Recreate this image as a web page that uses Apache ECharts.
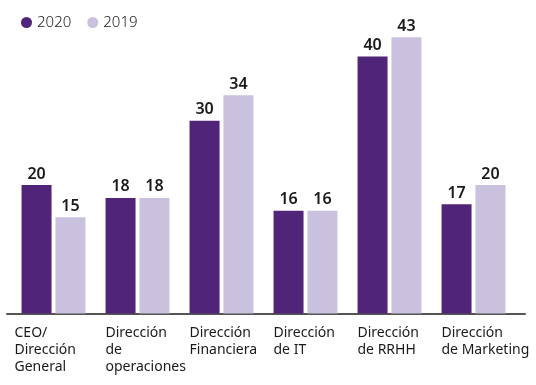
<!DOCTYPE html>
<html><head><meta charset="utf-8">
<script src="https://cdn.jsdelivr.net/npm/echarts@6/dist/echarts.min.js"></script>
<style>html,body{margin:0;padding:0;background:#fff}#c{width:536px;height:385px}</style>
</head><body><div id="c"></div>
<script>
var categories = ['CEO/\nDirección\nGeneral', 'Dirección\nde\noperaciones', 'Dirección\nFinanciera', 'Dirección\nde IT', 'Dirección\nde RRHH', 'Dirección\nde Marketing'];
var seriesNames = ['2020', '2019'];
var values2020 = [20, 18, 30, 16, 40, 17];
var values2019 = [15, 18, 34, 16, 43, 20];
var colors = ['#4f2479', '#c9c1de'];
var FONT = '"Noto Sans", sans-serif';

var catLabelStyle = {align: 'left', padding: [0, 0, 0, -32], lineHeight: 17,
  fontFamily: FONT, fontSize: 14, fontWeight: 'normal', color: '#1a1a1a'};
var catItems = categories.map(function (c, i) {
  if (i !== 0) return c;
  var st = Object.assign({}, catLabelStyle, {padding: [0, 0, 0, -39]});
  return {value: c, textStyle: st};
});

var chart = echarts.init(document.getElementById('c'));
var lbl = {show: true, position: 'top', distance: 3, color: '#1a1a1a', fontFamily: FONT, fontSize: 16, fontWeight: 600};
chart.setOption({
  animation: false,
  color: colors,
  legend: {
    left: 16, top: 10, icon: 'circle', itemWidth: 11, itemHeight: 11, itemGap: 16,
    textStyle: {fontFamily: FONT, fontSize: 15, color: '#222', fontWeight: 300},
    data: seriesNames
  },
  grid: [
    {left: 11.5, right: 20.5, top: 24.5, bottom: 71.5, outerBoundsMode: 'none', containLabel: false},
    {left: 7, right: 11, top: 24.5, bottom: 71.5, outerBoundsMode: 'none', containLabel: false}
  ],
  xAxis: [{
    type: 'category', data: catItems, gridIndex: 0,
    axisLine: {show: false}, axisTick: {show: false},
    axisLabel: Object.assign({interval: 0, margin: 11, hideOverlap: false}, catLabelStyle)
  }, {
    type: 'category', data: categories, gridIndex: 1,
    axisLine: {show: true, lineStyle: {color: '#555', width: 2}},
    axisTick: {show: false}, axisLabel: {show: false}
  }],
  yAxis: [{type: 'value', min: 0, max: 45, show: false, gridIndex: 0},
          {type: 'value', min: 0, max: 45, show: false, gridIndex: 1}],
  series: [
    {name: seriesNames[0], type: 'bar', data: values2020, barWidth: 30, barGap: '13%', label: lbl},
    {name: seriesNames[1], type: 'bar', data: values2019, barWidth: 30, barGap: '13%', label: lbl}
  ]
});
</script></body></html>
